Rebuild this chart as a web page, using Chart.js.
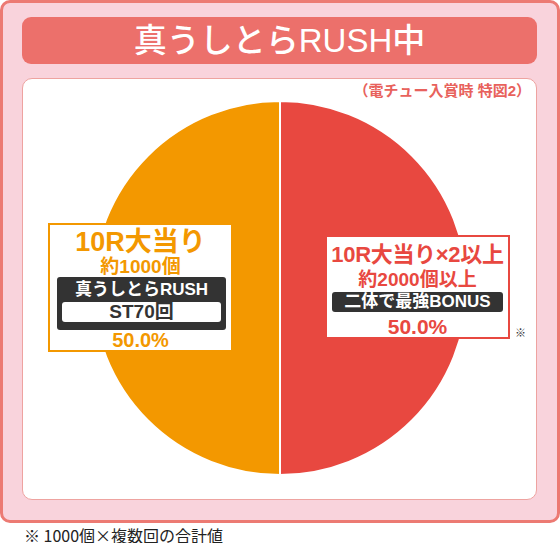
<!DOCTYPE html>
<html lang="ja">
  <head>
    <meta charset="UTF-8" />
    <title>真うしとらRUSH中</title>
    <script src="https://cdn.jsdelivr.net/npm/chart.js"></script>
    <style>
      body { margin: 0; width: 560px; height: 543px; background: #fff; position: relative; overflow: hidden;
        font-family: "Liberation Sans", "Noto Sans CJK JP", sans-serif; }
      .abs { position: absolute; }
      #outer { left: 0; top: 0; width: 554px; height: 517px; border: 3px solid #ec7a73; border-radius: 10px; background: #f9d3dc; }
      #titlebar { left: 22px; top: 17px; width: 515px; height: 47px; border-radius: 9px; background: #ec706b;
        color: #fff; font-size: 33px; font-weight: 500; text-align: center; line-height: 47px; }
      #inner { left: 22px; top: 78px; width: 513px; height: 420px; border: 1px solid #eea3a0; border-radius: 10px; background: #fff; }
      #sub { right: 29px; top: 79px; color: #e8625c; font-size: 15px; font-weight: 700; }
      #chartWrap { left: 90px; top: 98px; width: 380px; height: 380px; }
      .lbl { text-align: center; font-weight: 700; background: #fff; box-sizing: border-box; }
      .line { white-space: nowrap; }
      .dark { background: #333; color: #fff; border-radius: 3px; }
      .mark { color: #333; font-size: 11px; }
      #foot { left: 24px; top: 523px; font-size: 16px; color: #222; font-family: "Noto Sans CJK JP", "Noto Sans", sans-serif; }
    </style>
  </head>
  <body>
    <div id="outer" class="abs"></div>
    <div id="titlebar" class="abs"></div>
    <div id="inner" class="abs"></div>
    <div id="sub" class="abs"></div>
    <div id="chartWrap" class="abs"><canvas id="pie" width="380" height="380"></canvas></div>

    <!-- left label (orange slice) -->
    <div id="leftLbl" class="abs lbl" style="left:48px;top:223px;width:185px;height:129px;border:2px solid #f39800;color:#f39800;">
      <div class="line lbl-head" style="font-size:27px;line-height:30px;margin-top:2px;"></div>
      <div class="line lbl-sub" style="font-size:19px;line-height:19px;"></div>
      <div class="dark" style="margin:1px 5px 0 7px;height:53px;padding-top:2px;box-sizing:border-box;">
        <div class="line lbl-mode" style="font-size:17px;line-height:22px;"></div>
        <div class="lbl-st" style="background:#fff;color:#333;border-radius:3px;margin:1px 5px 0 5px;height:20px;line-height:20px;font-size:19px;"></div>
      </div>
      <div class="line lbl-pct" style="font-size:20px;line-height:20px;"></div>
    </div>

    <!-- right label (red slice) -->
    <div id="rightLbl" class="abs lbl" style="left:325px;top:235px;width:185px;height:104px;border:2px solid #e84840;color:#e84840;">
      <div class="line lbl-head" style="font-size:22px;line-height:26px;margin-top:5px;letter-spacing:-0.3px;"></div>
      <div class="line lbl-sub" style="font-size:19px;line-height:22px;margin-top:1px;"></div>
      <div class="dark line lbl-mode" style="margin:1px 5px 0 5px;height:20px;font-size:17px;line-height:20px;"></div>
      <div class="line lbl-pct" style="font-size:21px;line-height:18px;margin-top:6px;"></div>
    </div>
    <div class="abs mark" style="left:515px;top:324px;">※</div>

    <div id="foot" class="abs"></div>

    <script>
      const titleText = "真うしとらRUSH中";
      const subText = "（電チュー入賞時 特図2）";
      const footText = "※ 1000個×複数回の合計値";

      // slices clockwise from the top: red (right), then orange (left)
      const sliceNames = ["10R大当り×2以上", "10R大当り"];
      const sliceSubs = ["約2000個以上", "約1000個"];
      const sliceModes = ["二体で最強BONUS", "真うしとらRUSH"];
      const sliceST = ["", "ST70回"];
      const sliceValues = [50.0, 50.0];
      const sliceColors = ["#e84840", "#f39800"];

      document.getElementById("titlebar").textContent = titleText;
      document.getElementById("sub").textContent = subText;
      document.getElementById("foot").textContent = footText;

      function fillLabel(id, i) {
        const box = document.getElementById(id);
        box.querySelector(".lbl-head").textContent = sliceNames[i];
        box.querySelector(".lbl-sub").textContent = sliceSubs[i];
        box.querySelector(".lbl-mode").textContent = sliceModes[i];
        const st = box.querySelector(".lbl-st");
        if (st) st.textContent = sliceST[i];
        box.querySelector(".lbl-pct").textContent = sliceValues[i].toFixed(1) + "%";
      }
      fillLabel("rightLbl", 0);
      fillLabel("leftLbl", 1);

      new Chart(document.getElementById("pie"), {
        type: "pie",
        data: {
          labels: sliceNames,
          datasets: [
            {
              data: sliceValues,
              backgroundColor: sliceColors,
              borderColor: "#fff",
              borderWidth: 2,
              radius: 187,
            },
          ],
        },
        options: {
          responsive: false,
          animation: false,
          layout: { padding: 0 },
          plugins: {
            legend: { display: false },
            tooltip: { enabled: false },
          },
        },
      });
    </script>
  </body>
</html>
